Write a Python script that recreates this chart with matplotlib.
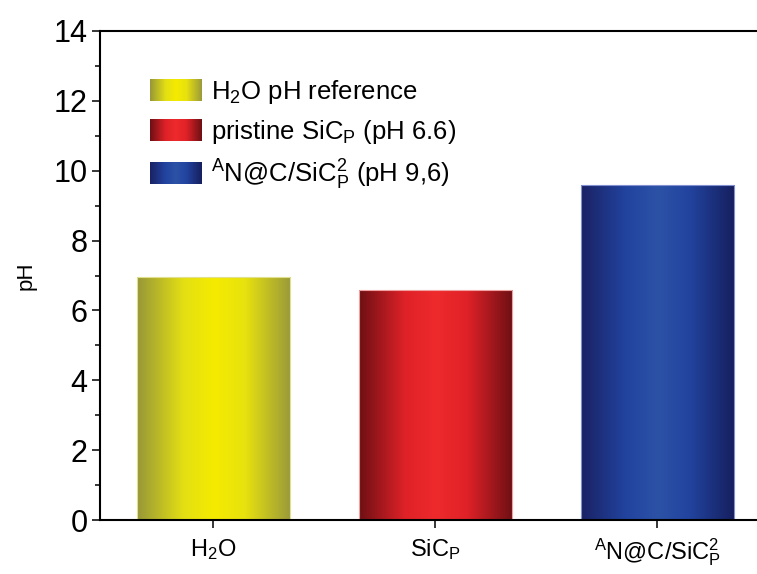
import numpy as np
import matplotlib
matplotlib.use("Agg")
import matplotlib.pyplot as plt
from matplotlib.colors import LinearSegmentedColormap
from matplotlib.legend_handler import HandlerBase
from matplotlib.image import BboxImage
from matplotlib.transforms import Bbox, TransformedBbox
from matplotlib.ticker import MultipleLocator

plt.rcParams['font.family'] = ['Liberation Sans', 'DejaVu Sans']
plt.rcParams['mathtext.fontset'] = 'custom'
plt.rcParams['mathtext.rm'] = 'Liberation Sans'
plt.rcParams['mathtext.it'] = 'Liberation Sans:italic'
plt.rcParams['mathtext.bf'] = 'Liberation Sans:bold'

# ---- data ----
categories = [r'H$_2$O', r'SiC$_\mathrm{P}$', r'$^\mathrm{A}$N@C/SiC$_\mathrm{P}^2$']
ph_values = [6.95, 6.58, 9.58]
legend_labels = [r'H$_2$O pH reference', r'pristine SiC$_\mathrm{P}$ (pH 6.6)',
                 r'$^\mathrm{A}$N@C/SiC$_\mathrm{P}^2$ (pH 9,6)']
y_ticks = [0, 2, 4, 6, 8, 10, 12, 14]

# gradient colours (edge -> centre -> edge)
grad_stops = [
    [(0.0, '#979738'), (0.3, '#e3df14'), (0.5, '#f5eb00'), (0.7, '#e8e20e'), (1.0, '#9a9a3a')],
    [(0.0, '#6e1014'), (0.3, '#df2228'), (0.5, '#ee2a2c'), (0.7, '#e02228'), (1.0, '#6e1014')],
    [(0.0, '#1a2264'), (0.3, '#2244a0'), (0.5, '#2c52a6'), (0.7, '#2244a0'), (1.0, '#161f5e')],
]
edge_colors = ['#e0e090', '#f0a0a0', '#8090d0']
cmaps = [LinearSegmentedColormap.from_list(f'g{i}', s) for i, s in enumerate(grad_stops)]

W, H = 757, 574
fig = plt.figure(figsize=(W / 100, H / 100), dpi=100)
ax_left, ax_right = 100, 800
ax_top, ax_bot = 31, 520
ax = fig.add_axes([ax_left / W, 1 - ax_bot / H, (ax_right - ax_left) / W, (ax_bot - ax_top) / H])

x = np.arange(len(categories))
bars = ax.bar(x, ph_values, width=0.69, color='none', edgecolor=edge_colors, linewidth=0.8, zorder=3)

grad = np.linspace(0, 1, 256).reshape(1, -1)
for b, cm in zip(bars, cmaps):
    x0, y0 = b.get_x(), b.get_y()
    w, h = b.get_width(), b.get_height()
    im = ax.imshow(grad, cmap=cm, extent=[x0, x0 + w, y0, y0 + h], aspect='auto',
                   interpolation='bilinear', zorder=2)
    im.set_clip_path(b)

ax.set_xlim(-0.51, 2.643)
ax.set_ylim(0, 14)
ax.set_xticks(x)
ax.set_xticklabels(categories, fontsize=17)
ax.set_yticks(y_ticks)
ax.set_yticklabels([str(v) for v in y_ticks], fontsize=22)
ax.yaxis.set_minor_locator(MultipleLocator(1))
ax.tick_params(axis='both', which='major', direction='out', length=6, width=1.1, pad=3)
ax.tick_params(axis='y', which='minor', direction='out', length=3.5, width=1.1)
ax.tick_params(axis='x', which='major', pad=6)
ax.set_ylabel('pH', fontsize=16, labelpad=12)
for s in ['left', 'bottom', 'top']:
    ax.spines[s].set_linewidth(1.5)
    ax.spines[s].set_zorder(5)
ax.spines['right'].set_visible(False)


class GradHandler(HandlerBase):
    def __init__(self, cmap, ec):
        super().__init__()
        self.cmap = cmap
        self.ec = ec

    def create_artists(self, legend, orig_handle, xdescent, ydescent, width, height, fontsize, trans):
        bb = TransformedBbox(Bbox.from_bounds(-xdescent, -ydescent, width, height), trans)
        img = BboxImage(bb, cmap=self.cmap, interpolation='bilinear')
        img.set_data(grad)
        return [img]


hmap = {b: GradHandler(cm, ec) for b, cm, ec in zip(bars, cmaps, edge_colors)}
leg = ax.legend(list(bars), legend_labels, handler_map=hmap, loc='upper left',
                bbox_to_anchor=(40 / 700, 0.924), frameon=False, fontsize=18.5,
                handlelength=2.0, handleheight=0.9, handletextpad=0.38,
                labelspacing=0.45, borderaxespad=0)

fig.savefig('out.png', dpi=100)
